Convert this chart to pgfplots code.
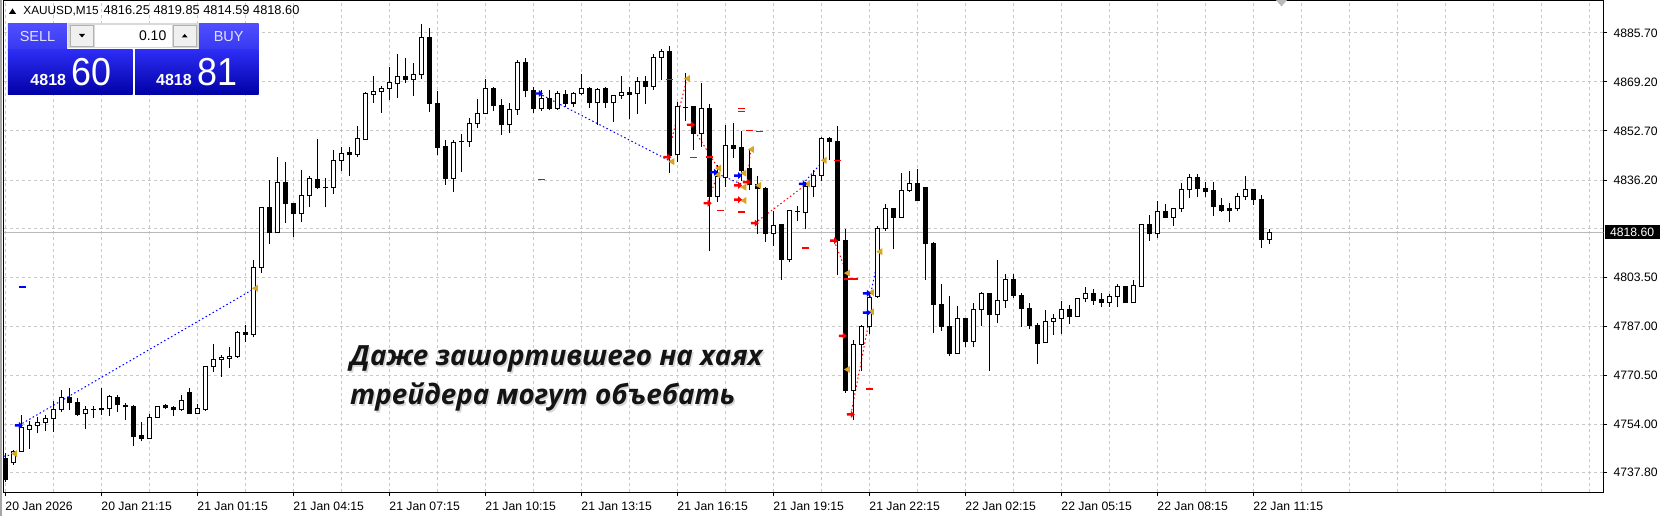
\documentclass[border=0pt]{standalone}
\usepackage{fontspec}
\setmainfont{Liberation Sans}
\newfontfamily\rusfont{Open Sans}
\usepackage{graphicx}
\usepackage{pgfplots}
\usepackage{pgfplotstable}
\pgfplotsset{compat=1.18}

\definecolor{gridc}{RGB}{200,200,200}
\definecolor{closec}{RGB}{218,165,32}
\definecolor{btntop}{RGB}{80,80,255}
\definecolor{btnbot}{RGB}{55,55,240}
\definecolor{boxtop}{RGB}{45,45,245}
\definecolor{boxbot}{RGB}{0,0,165}
\definecolor{btntext}{RGB}{225,225,255}

\pgfdeclareplotmark{mtarrow}{%
  \pgfpathmoveto{\pgfqpoint{-4pt}{-1.2pt}}%
  \pgfpathlineto{\pgfqpoint{0pt}{-1.2pt}}%
  \pgfpathlineto{\pgfqpoint{0pt}{-3.5pt}}%
  \pgfpathlineto{\pgfqpoint{4pt}{0pt}}%
  \pgfpathlineto{\pgfqpoint{0pt}{3.5pt}}%
  \pgfpathlineto{\pgfqpoint{0pt}{1.2pt}}%
  \pgfpathlineto{\pgfqpoint{-4pt}{1.2pt}}%
  \pgfpathclose
  \pgfusepathqfill
}
\pgfdeclareplotmark{mtclose}{%
  \pgfpathmoveto{\pgfqpoint{-3pt}{0pt}}%
  \pgfpathlineto{\pgfqpoint{3pt}{3.5pt}}%
  \pgfpathlineto{\pgfqpoint{3pt}{-3.5pt}}%
  \pgfpathclose
  \pgfusepathqfill
}

\pgfplotstableread{
o h l c
4742.4 4744.4 4734.6 4735.5
4741.1 4745.5 4740.4 4744.9
4744.8 4757.3 4744.8 4752.9
4752.3 4755.1 4745.8 4753.5
4753.5 4756.4 4751.0 4754.6
4754.6 4757.3 4751.7 4756.0
4756.0 4761.8 4751.5 4759.0
4759.0 4765.5 4758.2 4763.0
4763.0 4766.2 4758.8 4761.4
4761.4 4762.9 4756.8 4757.4
4757.6 4760.1 4752.6 4759.0
4759.1 4760.2 4756.3 4759.2
4759.4 4766.2 4757.3 4758.9
4759.3 4763.8 4756.8 4763.4
4763.0 4763.8 4758.2 4760.6
4760.5 4761.1 4755.5 4759.9
4760.1 4760.7 4746.7 4750.1
4750.3 4754.7 4748.3 4749.4
4749.4 4757.6 4749.2 4756.3
4756.3 4760.2 4756.1 4760.0
4760.5 4760.9 4759.2 4759.6
4759.8 4760.1 4756.8 4758.9
4758.9 4763.8 4758.4 4762.1
4764.8 4766.2 4757.4 4757.8
4757.8 4761.0 4757.4 4759.3
4759.2 4773.5 4758.5 4773.5
4773.5 4781.0 4771.7 4775.8
4775.7 4777.3 4770.1 4776.5
4776.3 4780.2 4773.1 4776.9
4776.9 4785.6 4776.4 4784.8
4785.0 4787.5 4781.6 4784.4
4784.4 4809.4 4783.3 4806.9
4806.9 4827.2 4804.9 4826.9
4826.9 4836.1 4814.7 4818.4
4818.4 4844.1 4818.4 4835.3
4835.3 4842.2 4821.9 4828.2
4828.3 4828.3 4817.0 4824.8
4824.8 4839.5 4822.1 4831.0
4831.0 4837.4 4827.1 4836.7
4836.5 4849.9 4833.3 4833.8
4833.7 4837.0 4827.0 4833.6
4833.7 4846.3 4831.6 4842.8
4842.8 4847.3 4839.3 4845.2
4845.3 4847.3 4837.6 4844.8
4844.8 4854.3 4844.0 4850.2
4849.8 4865.7 4849.8 4865.3
4865.0 4871.2 4862.2 4866.0
4866.0 4867.7 4858.8 4867.0
4867.0 4874.3 4863.1 4869.0
4868.7 4878.5 4863.7 4871.1
4871.1 4877.1 4868.7 4870.1
4870.1 4875.5 4864.4 4871.7
4871.7 4888.6 4870.1 4884.2
4884.2 4887.3 4859.2 4862.0
4861.8 4866.1 4844.5 4847.3
4847.5 4849.5 4834.6 4836.8
4836.8 4849.6 4832.1 4848.7
4849.0 4851.6 4838.9 4849.1
4849.1 4857.2 4847.3 4855.2
4855.2 4863.6 4853.8 4858.5
4858.5 4870.1 4858.5 4867.0
4867.0 4867.6 4859.5 4861.2
4861.2 4863.4 4851.4 4854.8
4854.8 4862.2 4852.1 4859.9
4859.9 4876.5 4858.2 4875.7
4875.7 4877.1 4864.0 4866.3
4866.3 4867.6 4858.7 4860.2
4860.2 4866.6 4859.4 4863.7
4863.7 4866.6 4859.6 4860.4
4860.4 4866.1 4859.6 4865.3
4864.9 4866.6 4860.8 4862.1
4862.1 4865.8 4860.8 4865.3
4865.3 4871.8 4864.7 4867.0
4867.0 4867.5 4860.4 4862.2
4862.2 4867.3 4854.6 4866.7
4867.0 4867.5 4860.4 4862.2
4862.2 4864.6 4855.7 4864.6
4864.6 4871.1 4863.4 4865.6
4865.6 4867.5 4856.6 4864.9
4865.3 4870.9 4858.5 4869.3
4869.4 4871.1 4861.7 4867.5
4867.5 4878.7 4866.6 4877.4
4877.4 4880.4 4869.7 4879.5
4879.5 4881.3 4838.5 4844.5
4844.7 4862.4 4842.2 4860.9
4860.7 4872.2 4856.1 4860.6
4860.9 4860.9 4846.4 4852.0
4852.0 4868.8 4847.3 4860.2
4860.2 4861.9 4812.2 4830.8
4830.8 4841.1 4828.7 4837.4
4837.2 4854.6 4833.8 4847.7
4847.7 4855.5 4843.6 4846.9
4847.0 4852.6 4836.0 4839.4
4840.1 4846.2 4832.7 4834.7
4834.7 4837.7 4818.1 4833.2
4833.2 4833.8 4815.2 4818.1
4818.1 4825.9 4814.1 4820.8
4821.2 4821.4 4802.6 4809.5
4809.5 4825.8 4808.5 4825.8
4825.7 4827.6 4822.3 4825.7
4825.4 4835.5 4819.6 4834.0
4834.0 4839.7 4830.4 4837.6
4837.6 4850.6 4835.8 4850.1
4850.1 4850.6 4842.8 4849.2
4849.2 4854.2 4804.2 4816.0
4816.0 4819.7 4764.7 4765.5
4765.5 4782.4 4755.4 4781.0
4781.0 4787.4 4772.0 4786.8
4786.8 4798.1 4784.4 4796.7
4797.1 4820.9 4796.5 4819.8
4819.8 4828.0 4819.2 4826.5
4826.5 4826.5 4812.9 4823.7
4823.7 4838.5 4823.5 4832.7
4832.7 4839.4 4832.1 4834.9
4834.9 4839.9 4829.3 4829.3
4833.6 4833.8 4802.6 4814.7
4814.7 4815.3 4784.6 4794.5
4794.5 4801.2 4785.5 4786.9
4787.0 4797.3 4777.1 4777.9
4777.9 4793.9 4777.6 4789.8
4789.8 4789.8 4779.9 4781.9
4781.9 4795.0 4779.9 4792.8
4792.8 4798.6 4787.2 4797.9
4797.9 4797.9 4772.0 4791.1
4791.1 4809.4 4788.0 4795.8
4795.8 4804.6 4793.1 4802.9
4802.9 4804.6 4796.7 4797.5
4797.5 4798.1 4786.8 4793.1
4793.1 4795.0 4786.0 4787.4
4787.4 4788.0 4774.5 4781.3
4781.5 4792.5 4781.5 4788.6
4788.6 4791.1 4784.1 4789.8
4789.8 4795.6 4784.3 4792.5
4792.5 4794.3 4787.8 4790.3
4790.3 4796.7 4790.3 4796.2
4796.2 4800.3 4795.1 4797.9
4797.9 4799.7 4794.3 4795.8
4795.9 4798.3 4793.4 4795.0
4795.0 4797.9 4793.6 4797.2
4797.2 4801.4 4793.4 4800.3
4800.3 4800.3 4794.7 4794.9
4795.0 4802.7 4795.0 4800.7
4800.4 4821.5 4800.4 4821.2
4821.2 4824.6 4815.8 4818.1
4818.1 4829.3 4816.6 4825.6
4825.6 4828.0 4823.4 4823.7
4823.7 4826.5 4820.9 4826.5
4826.5 4835.2 4825.4 4832.9
4832.9 4838.1 4830.2 4836.9
4836.9 4838.3 4830.4 4833.3
4833.3 4835.7 4830.4 4832.5
4832.7 4835.7 4824.0 4827.4
4827.5 4830.2 4825.4 4826.0
4826.5 4828.6 4822.0 4826.1
4826.5 4832.0 4825.7 4830.7
4830.7 4837.7 4829.5 4832.9
4832.9 4833.2 4827.9 4829.5
4829.5 4831.0 4813.4 4816.1
4816.25 4819.85 4814.59 4818.60
}\candles

\begin{document}
\begin{tikzpicture}[x=1pt,y=1pt]
\useasboundingbox (0,0) rectangle (1660,516);
\fill[white] (0,0) rectangle (1660,516);
\draw[gray!70, line width=1.5pt] (1.2,0) -- (1.2,516);
\begin{axis}[
  at={(4pt,23.7pt)}, anchor=south west,
  scale only axis, width=1599.4pt, height=491.3pt,
  xmin=-0.16, xmax=199.76, ymin=4731.2, ymax=4896.4,
  axis line style={black, line width=1pt},
  xtick={0,12,...,156},
  xticklabels={20 Jan 2026, 20 Jan 21:15, 21 Jan 01:15, 21 Jan 04:15, 21 Jan 07:15, 21 Jan 10:15, 21 Jan 13:15, 21 Jan 16:15, 21 Jan 19:15, 21 Jan 22:15, 22 Jan 02:15, 22 Jan 05:15, 22 Jan 08:15, 22 Jan 11:15},
  minor xtick={6,18,...,198,168,180,192},
  ytick={4885.7,4869.2,4852.7,4836.2,4803.5,4787,4770.5,4754,4737.8},
  yticklabels={4885.70,4869.20,4852.70,4836.20,4803.50,4787.00,4770.50,4754.00,4737.80},
  extra y ticks={4819.85}, extra y tick labels={},
  extra y tick style={major tick length=0pt},
  xmajorgrids, xminorgrids, ymajorgrids,
  major grid style={gridc, line width=1pt, dash pattern=on 3pt off 3pt},
  minor grid style={gridc, line width=1pt, dash pattern=on 3pt off 3pt},
  xtick pos=left, ytick pos=right, yticklabel pos=right,
  tick align=outside, major tick length=4pt, minor tick length=0pt,
  tick style={black, line width=1pt},
  /pgf/number format/assume math mode=true,
  tick label style={font=\fontsize{12.2}{14}\selectfont, inner sep=0pt},
  x tick label style={anchor=north west, yshift=-5pt},
  y tick label style={anchor=west, xshift=6pt},
  clip=true,
]
% current price line
\addplot[gray!55, line width=1pt] coordinates {(-1,4818.6) (201,4818.6)};
% dotted trade lines
\addplot[blue, line width=1pt, dash pattern=on 1.5pt off 2.5pt] coordinates {(-0.2,4743.3) (1.1,4744.0)};
\addplot[blue, line width=1pt, dash pattern=on 1.5pt off 2.5pt] coordinates {(1.7,4753.7) (31.2,4799.8)};
\addplot[blue, line width=1pt, dash pattern=on 1.5pt off 2.5pt] coordinates {(66.7,4865.3) (83.25,4842.4)};
\addplot[blue, line width=1pt, dash pattern=on 1.5pt off 2.5pt] coordinates {(88.6,4838.8) (92.2,4834.6)};
\addplot[blue, line width=1pt, dash pattern=on 1.5pt off 2.5pt] coordinates {(99.7,4834.9) (102.3,4842.8)};
\addplot[blue, line width=1pt, dash pattern=on 1.5pt off 2.5pt] coordinates {(107.7,4791.6) (109.25,4812.1)};
\addplot[red, line width=1pt, dash pattern=on 1.5pt off 2.5pt] coordinates {(82.75,4843.9) (85.2,4870.3)};
\addplot[red, line width=1pt, dash pattern=on 1.5pt off 2.5pt] coordinates {(85.7,4854.8) (89.1,4840.2)};
\addplot[red, line width=1pt, dash pattern=on 1.5pt off 2.5pt] coordinates {(87.8,4828.4) (89.0,4838.0)};
\addplot[red, line width=1pt, dash pattern=on 1.5pt off 2.5pt] coordinates {(92.7,4835.5) (93.2,4846.5)};
\addplot[red, line width=1pt, dash pattern=on 1.5pt off 2.5pt] coordinates {(93.7,4821.7) (100.2,4834.9)};
\addplot[red, line width=1pt, dash pattern=on 1.5pt off 2.5pt] coordinates {(103.6,4815.8) (105.2,4804.9)};
\addplot[red, line width=1pt, dash pattern=on 1.5pt off 2.5pt] coordinates {(104.7,4783.8) (105.2,4772.5)};
\addplot[red, line width=1pt, dash pattern=on 1.5pt off 2.5pt] coordinates {(105.7,4757.4) (108.2,4791.9)};
% wicks
\addplot[black, line width=1pt, quiver={u=0, v={\thisrow{h}-\thisrow{l}}}]
  table[x expr=\coordindex, y=l] {\candles};
% bodies
\addplot[black, line width=5pt, quiver={u=0, v={abs(\thisrow{c}-\thisrow{o})+0.34}}]
  table[x expr=\coordindex, y expr={min(\thisrow{o},\thisrow{c})-0.17}] {\candles};
\addplot[white, line width=3pt, quiver={u=0, v={max(\thisrow{c}-\thisrow{o}-0.34,0)}}]
  table[x expr=\coordindex, y expr={\thisrow{o}+0.17}] {\candles};
% level dashes
\addplot[only marks, red, mark=-, mark size=3.5pt, mark options={line width=1.3pt}] coordinates {
(67.0,4836.3) (83.0,4870.0) (86.0,4843.8) (88.0,4843.9) (89.4,4825.9) (92.0,4860.2) (92.0,4859.3)
(92.0,4825.4) (93.0,4852.9) (94.3,4852.6) (100.0,4813.3) (104.0,4842.8) (105.3,4802.9) (106.1,4802.9) (108.0,4765.9)};
\addplot[only marks, blue, mark=-, mark size=3.5pt, mark options={line width=1.3pt}] coordinates {(2.1,4800.2)};
% close marks
\addplot[only marks, closec, mark=mtclose] coordinates {
(1.1,4744.2) (31.2,4799.8) (83.25,4842.4) (85.2,4870.3) (89.1,4840.2) (89.0,4838.0) (92.25,4838.5)
(92.25,4833.8) (92.25,4829.3) (93.2,4846.5) (94.1,4834.4) (100.2,4834.9) (102.3,4842.8) (105.2,4804.9)
(105.2,4772.5) (108.2,4798.4) (108.2,4791.9) (109.25,4812.1)};
% entry arrows
\addplot[only marks, blue, mark=mtarrow] coordinates {
(1.7,4753.7) (66.7,4865.3) (88.6,4838.8) (91.6,4837.7) (99.7,4834.9) (107.7,4798.1) (107.7,4791.6)};
\addplot[only marks, red, mark=mtarrow] coordinates {
(82.75,4843.9) (85.7,4854.8) (87.8,4828.4) (91.6,4834.4) (91.6,4829.6) (92.7,4835.5) (93.7,4821.7)
(103.6,4815.8) (104.7,4783.8) (105.7,4757.4)};
\end{axis}
% current price tag
\fill[black] (1604.5,277) rectangle (1660,290.5);
\node[anchor=west, inner sep=0, text=white, font=\fontsize{12.2}{14}\selectfont] at (1609.8,283.7) {4818.60};
% chart shift marker
\fill[gray!55] (1276,516) -- (1287,516) -- (1281.5,509.5) -- cycle;
% title line
\fill[black] (8.9,502) -- (16.1,502) -- (12.5,507.5) -- cycle;
\node[anchor=base west, inner sep=0, font=\fontsize{11.8}{13}\selectfont] at (23.2,501) {XAUUSD,M15};
\node[anchor=base west, inner sep=0, font=\fontsize{12.8}{14}\selectfont] at (103.5,501) {4816.25 4819.85 4814.59 4818.60};
% one-click panel
\shade[top color=btntop, bottom color=btnbot] (7.9,466) rectangle (67.1,492.7);
\shade[top color=btntop, bottom color=btnbot] (198.9,466) rectangle (258.5,492.7);
\draw[btntext, line width=0.8pt] (11.8,467) -- (63.5,467);
\draw[btntext, line width=0.8pt] (202.8,467) -- (254.6,467);
\node[text=btntext, font=\fontsize{14.5}{16}\selectfont] at (37.5,479.3) {SELL};
\node[text=btntext, font=\fontsize{14.5}{16}\selectfont] at (228.7,479.3) {BUY};
\fill[gray!30] (67.8,467.7) rectangle (198.6,492.7);
\fill[gray!12] (70.3,469.2) rectangle (93.5,491);
\draw[gray!60, line width=0.6pt] (70.3,469.2) rectangle (93.5,491);
\fill[white] (94.6,469.2) rectangle (172.4,491);
\fill[gray!12] (173.4,469.2) rectangle (196.4,491);
\draw[gray!60, line width=0.6pt] (173.4,469.2) rectangle (196.4,491);
\fill[black] (79,482) -- (85,482) -- (82,478.5) -- cycle;
\fill[black] (181.7,478.5) -- (187.7,478.5) -- (184.7,482) -- cycle;
\node[anchor=base east, inner sep=0, font=\fontsize{14}{16}\selectfont] at (166.5,475) {0.10};
\shade[top color=boxtop, bottom color=boxbot] (7.9,421) rectangle (132.5,466);
\shade[top color=boxtop, bottom color=boxbot] (135,421) rectangle (258.5,466);
\node[anchor=base west, inner sep=0, text=white, font=\bfseries\fontsize{16}{18}\selectfont] at (30.3,430) {4818};
\node[anchor=base west, inner sep=0, text=white, font=\fontsize{39}{40}\selectfont] at (71.4,430) {\scalebox{0.92}[1]{60}};
\node[anchor=base west, inner sep=0, text=white, font=\bfseries\fontsize{16}{18}\selectfont] at (156,430) {4818};
\node[anchor=base west, inner sep=0, text=white, font=\fontsize{39}{40}\selectfont] at (197,430) {\scalebox{0.92}[1]{81}};
% caption text
\node[anchor=base west, inner sep=0, text=black!25, opacity=0.6] at (351.5,148.5) {\rusfont\itshape\bfseries\fontsize{27.8}{34}\selectfont Даже зашортившего на хаях};
\node[anchor=base west, inner sep=0, text=black!25, opacity=0.6] at (351.5,109.5) {\rusfont\itshape\bfseries\fontsize{27.8}{34}\selectfont трейдера могут объебать};
\node[anchor=base west, inner sep=0, text=black!92] at (350,150) {\rusfont\itshape\bfseries\fontsize{27.8}{34}\selectfont Даже зашортившего на хаях};
\node[anchor=base west, inner sep=0, text=black!92] at (350,111) {\rusfont\itshape\bfseries\fontsize{27.8}{34}\selectfont трейдера могут объебать};
\end{tikzpicture}
\end{document}
